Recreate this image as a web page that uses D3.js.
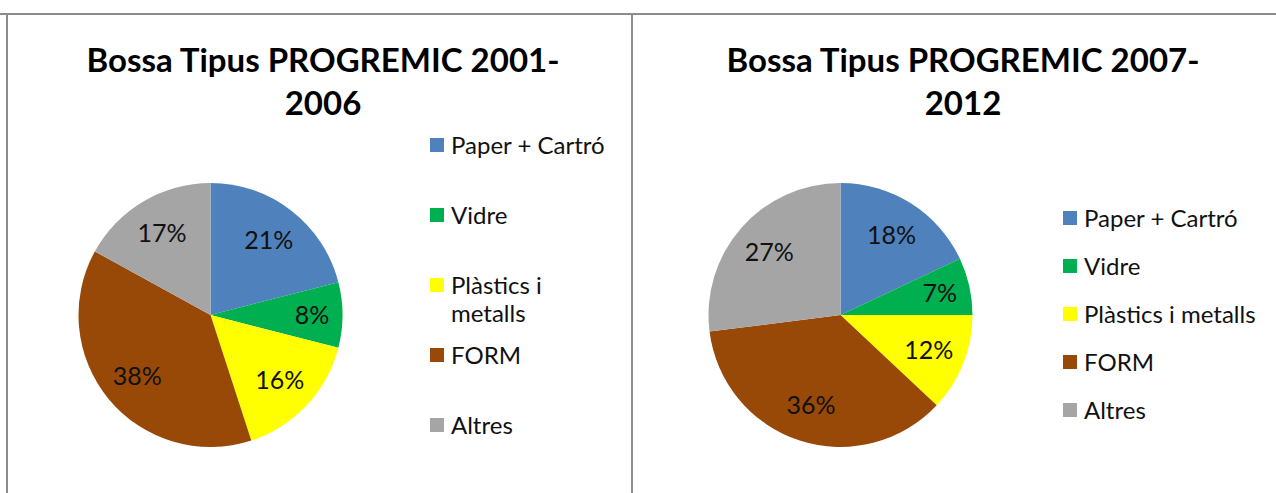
<!DOCTYPE html>
<html>
<head>
<meta charset="utf-8">
<script src="https://cdn.jsdelivr.net/npm/d3@7"></script>
<style>
  body { margin: 0; background: #fff; }
  text { font-family: Lato, "Open Sans", sans-serif; fill: #000; }
</style>
</head>
<body>
<div id="chart"></div>
<script>
// data
var categories = ["Paper + Cartró", "Vidre", "Plàstics i metalls", "FORM", "Altres"];
var values2001 = [21, 8, 16, 38, 17];
var values2007 = [18, 7, 12, 36, 27];
var titles = [["Bossa Tipus PROGREMIC 2001-", "2006"], ["Bossa Tipus PROGREMIC 2007-", "2012"]];
var colors = ["#4F81BD", "#00B050", "#FFFF00", "#984807", "#A5A5A5"];

var W = 1276, H = 493;
var svg = d3.select("#chart").append("svg").attr("width", W).attr("height", H);

// frame lines
svg.append("line").attr("x1", 0).attr("x2", W).attr("y1", 14).attr("y2", 14).style("stroke", "#8c8c8c").style("stroke-width", 2);
svg.append("line").attr("x1", 7).attr("x2", 7).attr("y1", 13).attr("y2", H).style("stroke", "#8c8c8c").style("stroke-width", 2);
svg.append("line").attr("x1", 632).attr("x2", 632).attr("y1", 13).attr("y2", H).style("stroke", "#8c8c8c").style("stroke-width", 2);

var panels = [
  {values: values2001, title: titles[0], cx: 210.5, cy: 315, r: 132, tx: 323, legX: 430, legY: 145, legStep: 70, legWrap: 162},
  {values: values2007, title: titles[1], cx: 840.5, cy: 315, r: 132, tx: 963, legX: 1063, legY: 218, legStep: 48, legWrap: 300}
];

var pie = d3.pie().sort(null).value(function(d) { return d; });

panels.forEach(function(p) {
  var g = svg.append("g");

  // title
  g.append("text").attr("x", p.tx).attr("y", 0).attr("text-anchor", "middle")
    .style("font-size", "33px").style("font-weight", "bold")
    .selectAll("tspan").data(p.title).enter().append("tspan")
    .attr("x", p.tx).attr("y", function(d, i) { return 72 + i * 43; })
    .text(function(d) { return d; });

  var arc = d3.arc().innerRadius(0).outerRadius(p.r);
  var arcs = pie(p.values);
  var pg = g.append("g").attr("transform", "translate(" + p.cx + "," + p.cy + ")");

  pg.selectAll("path").data(arcs).enter().append("path")
    .attr("d", arc)
    .style("fill", function(d, i) { return colors[i]; });

  pg.selectAll("text.lbl").data(arcs).enter().append("text")
    .attr("class", "lbl")
    .attr("transform", function(d) {
      var k = d.value < 10 ? 0.77 : 0.72;
      var a = (d.startAngle + d.endAngle) / 2;
      return "translate(" + (Math.sin(a) * p.r * k) + "," + (-Math.cos(a) * p.r * k) + ")";
    })
    .attr("text-anchor", "middle").attr("dy", "0.36em")
    .style("font-size", "25px").style("fill", "#111")
    .text(function(d) { return d.value + "%"; });

  // legend
  var leg = g.selectAll("g.leg").data(categories).enter().append("g").attr("class", "leg")
    .attr("transform", function(d, i) { return "translate(" + p.legX + "," + (p.legY + i * p.legStep) + ")"; });
  leg.append("rect").attr("x", 0).attr("y", -7).attr("width", 14).attr("height", 14)
    .style("fill", function(d, i) { return colors[i]; });
  leg.append("text").attr("x", 21).attr("y", 0).attr("dy", "0.36em")
    .style("font-size", "24px").style("fill", "#111")
    .each(function(d) {
      var t = d3.select(this);
      var words = d.split(" "), line = [];
      var ts = t.append("tspan").attr("x", 21);
      words.forEach(function(w) {
        line.push(w);
        ts.text(line.join(" "));
        if (ts.node().getComputedTextLength() > p.legWrap && line.length > 1) {
          line.pop();
          ts.text(line.join(" "));
          line = [w];
          ts = t.append("tspan").attr("x", 21).attr("dy", "1.2em").text(w);
        }
      });
    });
});
</script>
</body>
</html>
